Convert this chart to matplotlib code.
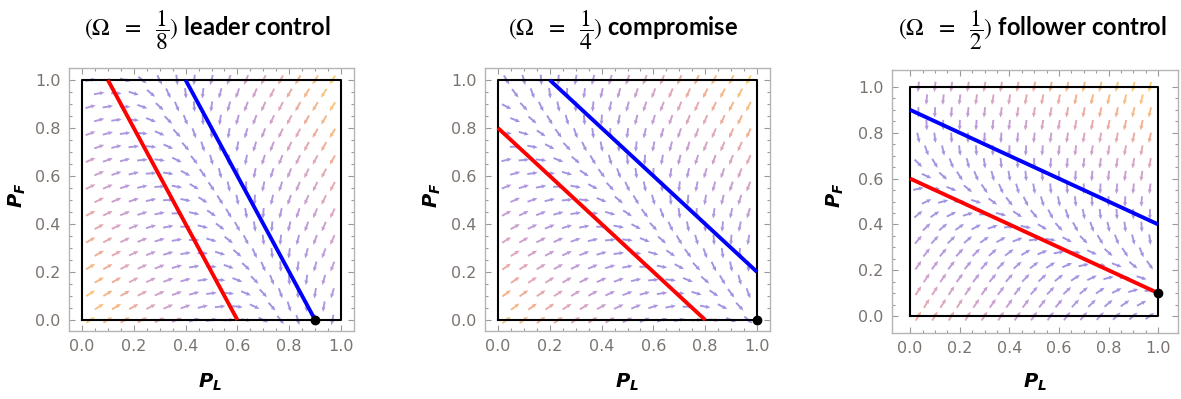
import numpy as np
import matplotlib
matplotlib.use("Agg")
import matplotlib.pyplot as plt
from matplotlib.colors import LinearSegmentedColormap, Normalize

# panel data
omega_den = [8, 4, 2]
panel_names = ['leader control', 'compromise', 'follower control']

# nullclines: blue (leader), red (follower), endpoints
blue_x = [[0.4, 0.9], [0.2, 1.0], [0.0, 1.0]]
blue_y = [[1.0, 0.0], [1.0, 0.2], [0.9, 0.4]]
red_x = [[0.1, 0.6], [0.0, 0.8], [0.0, 1.0]]
red_y = [[1.0, 0.0], [0.8, 0.0], [0.6, 0.1]]

# stable points
fixed_x = [0.9, 1.0, 1.0]
fixed_y = [0.0, 0.0, 0.1]

# follower / leader speed ratio for the field
rate_ratio = [1.0, 1.2, 2.6]

W, H = 1181, 399
fig = plt.figure(figsize=(W / 100, H / 100), dpi=100)

# frame boxes in pixels: left, right, top, bottom
boxes = [(69, 354, 68, 331), (485, 770, 68, 331), (892, 1178, 70, 333)]
xlims = [(-0.05, 1.05), (-0.05, 1.05), (-0.073, 1.08)]
ylims = [(-0.046, 1.05), (-0.046, 1.05), (-0.074, 1.074)]
title_x = [207, 623, 1032]
pl_x = [210, 627, 1035]
pf_x = [17, 432, 835]

cmap = LinearSegmentedColormap.from_list('mma', [
    (0.0, '#8678dc'), (0.3, '#a480d4'), (0.55, '#d58fb0'),
    (0.75, '#f09c70'), (1.0, '#f8c455')])


def line_fn(xs, ys, X, Y):
    a = ys[0] - ys[1]
    b = xs[1] - xs[0]
    c = a * xs[0] + b * ys[0]
    return c - (a * X + b * Y)


# staggered vector grid
rows = np.arange(19) / 18
pts_x, pts_y = [], []
for j, yy in enumerate(rows):
    if j % 2 == 0:
        xs = (np.arange(15) + 0.5) / 15
    else:
        xs = (np.arange(14) + 1.0) / 15
    pts_x.extend(xs)
    pts_y.extend([yy] * len(xs))
pts_x = np.array(pts_x)
pts_y = np.array(pts_y)

for i in range(3):
    l, r, t, b = boxes[i]
    ax = fig.add_axes([l / W, 1 - b / H, (r - l) / W, (b - t) / H])

    U = line_fn(blue_x[i], blue_y[i], pts_x, pts_y)
    V = rate_ratio[i] * line_fn(red_x[i], red_y[i], pts_x, pts_y)
    spd = np.hypot(U, V)
    n = np.where(spd > 0, spd, 1)
    cols = cmap(Normalize(spd.min(), spd.max())(spd))
    ax.quiver(pts_x, pts_y, U / n, V / n, color=cols, alpha=0.8,
              pivot='middle', angles='uv', scale_units='inches', scale=9.5,
              units='inches', width=0.019, headwidth=2.2, headlength=2.5,
              headaxislength=2.3, zorder=2)

    ax.plot([0, 1, 1, 0, 0], [0, 0, 1, 1, 0], color='black', lw=1.5, zorder=3)
    ax.plot(red_x[i], red_y[i], color='#ff0000', lw=2.8, zorder=4,
            solid_capstyle='butt')
    ax.plot(blue_x[i], blue_y[i], color='#0000ff', lw=2.8, zorder=4,
            solid_capstyle='butt')
    ax.plot(fixed_x[i], fixed_y[i], 'o', color='black', ms=6, zorder=5,
            clip_on=False)

    ax.set_xlim(*xlims[i])
    ax.set_ylim(*ylims[i])
    ax.set_xticks(np.arange(0, 1.01, 0.2))
    ax.set_yticks(np.arange(0, 1.01, 0.2))
    ax.set_xticks(np.arange(0, 1.001, 0.05), minor=True)
    ax.set_yticks(np.arange(0, 1.001, 0.05), minor=True)
    ax.xaxis.set_major_formatter(plt.FormatStrFormatter('%.1f'))
    ax.yaxis.set_major_formatter(plt.FormatStrFormatter('%.1f'))
    ax.tick_params(which='both', direction='in', top=True, right=True,
                   color='#999999', width=0.8)
    ax.tick_params(which='major', length=4, labelsize=11.5,
                   labelcolor='#7a7470', pad=6)
    ax.tick_params(which='minor', length=2.2)
    for s in ax.spines.values():
        s.set_color('#b5b5b5')
        s.set_linewidth(1.0)

    fig.text(title_x[i] / W, 1 - 30 / H,
             r'$(\Omega\ \ =\ \ \dfrac{1}{%d})$ ' % omega_den[i] + panel_names[i],
             ha='center', va='center', fontsize=17, fontweight='bold',
             family='Lato', math_fontfamily='stix')
    fig.text(pl_x[i] / W, 1 - 382 / H, r'$\mathbfit{P_L}$', ha='center',
             va='center', fontsize=14, math_fontfamily='dejavusans')
    fig.text(pf_x[i] / W, 1 - 195 / H, r'$\mathbfit{P_F}$', ha='center',
             va='center', fontsize=14, rotation=90,
             math_fontfamily='dejavusans')

fig.savefig('out.png', dpi=100)
